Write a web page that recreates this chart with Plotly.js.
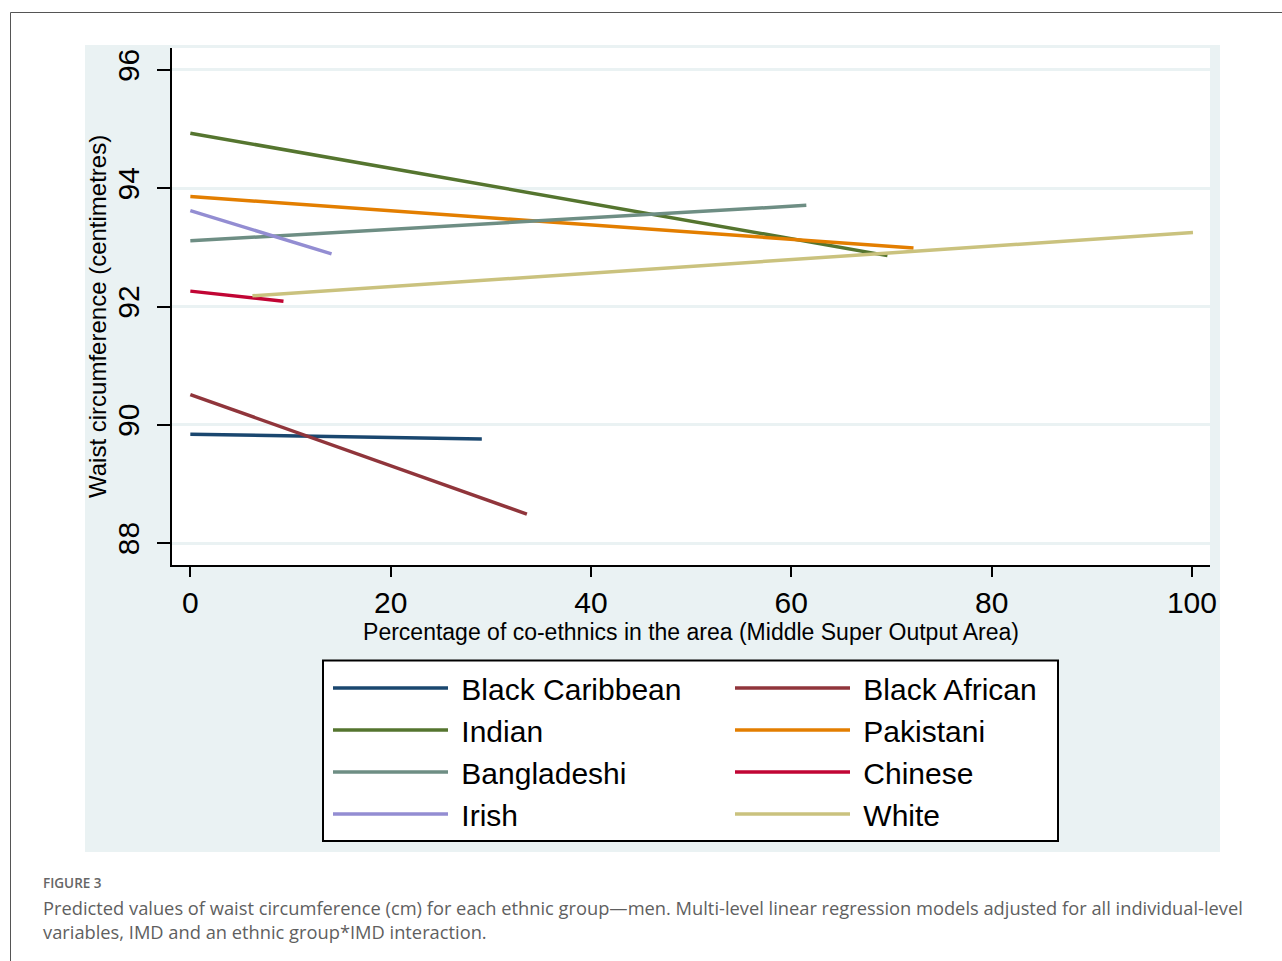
<!DOCTYPE html>
<html>
<head>
<meta charset="utf-8">
<script src="https://cdn.plot.ly/plotly-3.0.1.min.js"></script>
<style>html,body{margin:0;padding:0;background:#fff;}#chart{width:1282px;height:961px;}</style>
</head>
<body>
<div id="chart"></div>
<script>
// Series names and colours (Stata s2color)
const groups = ["Black Caribbean", "Black African", "Indian", "Pakistani", "Bangladeshi", "Chinese", "Irish", "White"];
const colors = ["#1a476f", "#90353b", "#55752f", "#e37e00", "#6e8e84", "#c10534", "#938dd2", "#cac27e"];
// which legend column each group sits in
const legendColumn = ["legend", "legend2", "legend", "legend2", "legend", "legend2", "legend", "legend2"];

// Percentage of co-ethnics (x) at start and end of each predicted line
const xBlackCaribbean = [0, 29.1];
const xBlackAfrican   = [0, 33.6];
const xIndian         = [0, 69.6];
const xPakistani      = [0, 72.2];
const xBangladeshi    = [0, 61.5];
const xChinese        = [0, 9.3];
const xIrish          = [0, 14.1];
const xWhite          = [6.2, 100.1];

// Predicted waist circumference (cm)
const yBlackCaribbean = [89.84, 89.76];
const yBlackAfrican   = [90.51, 88.49];
const yIndian         = [94.93, 92.86];
const yPakistani      = [93.86, 92.99];
const yBangladeshi    = [93.11, 93.71];
const yChinese        = [92.26, 92.09];
const yIrish          = [93.62, 92.89];
const yWhite          = [92.18, 93.25];

const xTicks = [0, 20, 40, 60, 80, 100];
const yTicks = [88, 90, 92, 94, 96];

const xs = [xBlackCaribbean, xBlackAfrican, xIndian, xPakistani, xBangladeshi, xChinese, xIrish, xWhite];
const ys = [yBlackCaribbean, yBlackAfrican, yIndian, yPakistani, yBangladeshi, yChinese, yIrish, yWhite];

const traces = groups.map((g, i) => ({
  type: "scatter", mode: "lines", name: "\u00a0" + g,
  x: xs[i], y: ys[i],
  legend: legendColumn[i],
  line: {color: colors[i], width: 3.5}
}));

// pixel -> paper helpers for layout decorations
const L = 172, R = 1210, T = 48, B = 565;
const px = v => (v - L) / (R - L);
const py = v => (B - v) / (B - T);

const font = "Liberation Sans, Arial, sans-serif";
const legendBase = {
  orientation: "v", yanchor: "top", xanchor: "left",
  bgcolor: "rgba(0,0,0,0)", borderwidth: 0,
  font: {size: 30, family: font, color: "#000"},
  itemwidth: 115, traceorder: "normal"
};

const layout = {
  width: 1282, height: 961,
  margin: {l: L, r: 1282 - R, t: T, b: 961 - B},
  paper_bgcolor: "#ffffff",
  plot_bgcolor: "#ffffff",
  showlegend: true,
  font: {family: font, color: "#000"},
  xaxis: {
    range: [-1.83, 101.8], tickvals: xTicks, ticktext: xTicks.map(String),
    ticks: "outside", ticklen: 10, tickwidth: 2, tickcolor: "#000",
    showline: true, linecolor: "#000", linewidth: 2,
    showgrid: false, zeroline: false,
    tickfont: {size: 30, family: font, color: "#000"},
    title: {text: "Percentage of co-ethnics in the area (Middle Super Output Area)", font: {size: 23, family: font, color: "#000"}, standoff: 5}
  },
  yaxis: {
    range: [87.63, 96.37], tickvals: yTicks, ticktext: yTicks.map(String),
    tickangle: -90, ticklabelstandoff: 6,
    ticks: "outside", ticklen: 13, tickwidth: 2, tickcolor: "#000",
    showline: true, linecolor: "#000", linewidth: 2,
    showgrid: true, gridcolor: "#eaf2f3", gridwidth: 3, zeroline: false,
    tickfont: {size: 30, family: font, color: "#000"}
  },
  legend: Object.assign({}, legendBase, {x: px(328), y: py(662)}),
  legend2: Object.assign({}, legendBase, {x: px(730), y: py(662)}),
  shapes: [
    {type: "rect", xref: "paper", yref: "paper", x0: px(10.5), x1: px(1300), y0: py(12.5), y1: py(990),
     line: {color: "#555", width: 1}, fillcolor: "rgba(0,0,0,0)", layer: "below"},
    {type: "rect", xref: "paper", yref: "paper", x0: px(85), x1: px(1220), y0: py(45), y1: py(852),
     line: {width: 0}, fillcolor: "#eaf2f3", layer: "below"},
    {type: "rect", xref: "paper", yref: "paper", x0: 0, x1: 1, y0: 0, y1: py(T),
     line: {width: 0}, fillcolor: "#ffffff", layer: "below"},
    {type: "rect", xref: "paper", yref: "paper", x0: px(323), x1: px(1058), y0: py(660.5), y1: py(841),
     line: {color: "#000", width: 2}, fillcolor: "#ffffff", layer: "below"}
  ],
  annotations: [
    {xref: "paper", yref: "paper", x: px(97), y: py(317), xanchor: "center", yanchor: "middle", showarrow: false,
     textangle: -90, text: "Waist circumference (centimetres)", font: {size: 24, family: font, color: "#000"}},
    {xref: "paper", yref: "paper", x: px(41), y: py(883), xanchor: "left", yanchor: "middle", showarrow: false,
     text: "FIGURE 3", font: {family: "Open Sans, Noto Sans, sans-serif", size: 13.5, color: "#666", weight: 600}},
    {xref: "paper", yref: "paper", x: px(41), y: py(893), xanchor: "left", yanchor: "top", showarrow: false, align: "left",
     text: "Predicted values of waist circumference (cm) for each ethnic group\u2014men. Multi-level linear regression models adjusted for all individual-level<br>variables, IMD and an ethnic group*IMD interaction.",
     font: {family: "Open Sans, Noto Sans, sans-serif", size: 18.3, color: "#5f5f5f"}}
  ]
};

Plotly.newPlot("chart", traces, layout, {displayModeBar: false, staticPlot: true});
</script>
</body>
</html>
